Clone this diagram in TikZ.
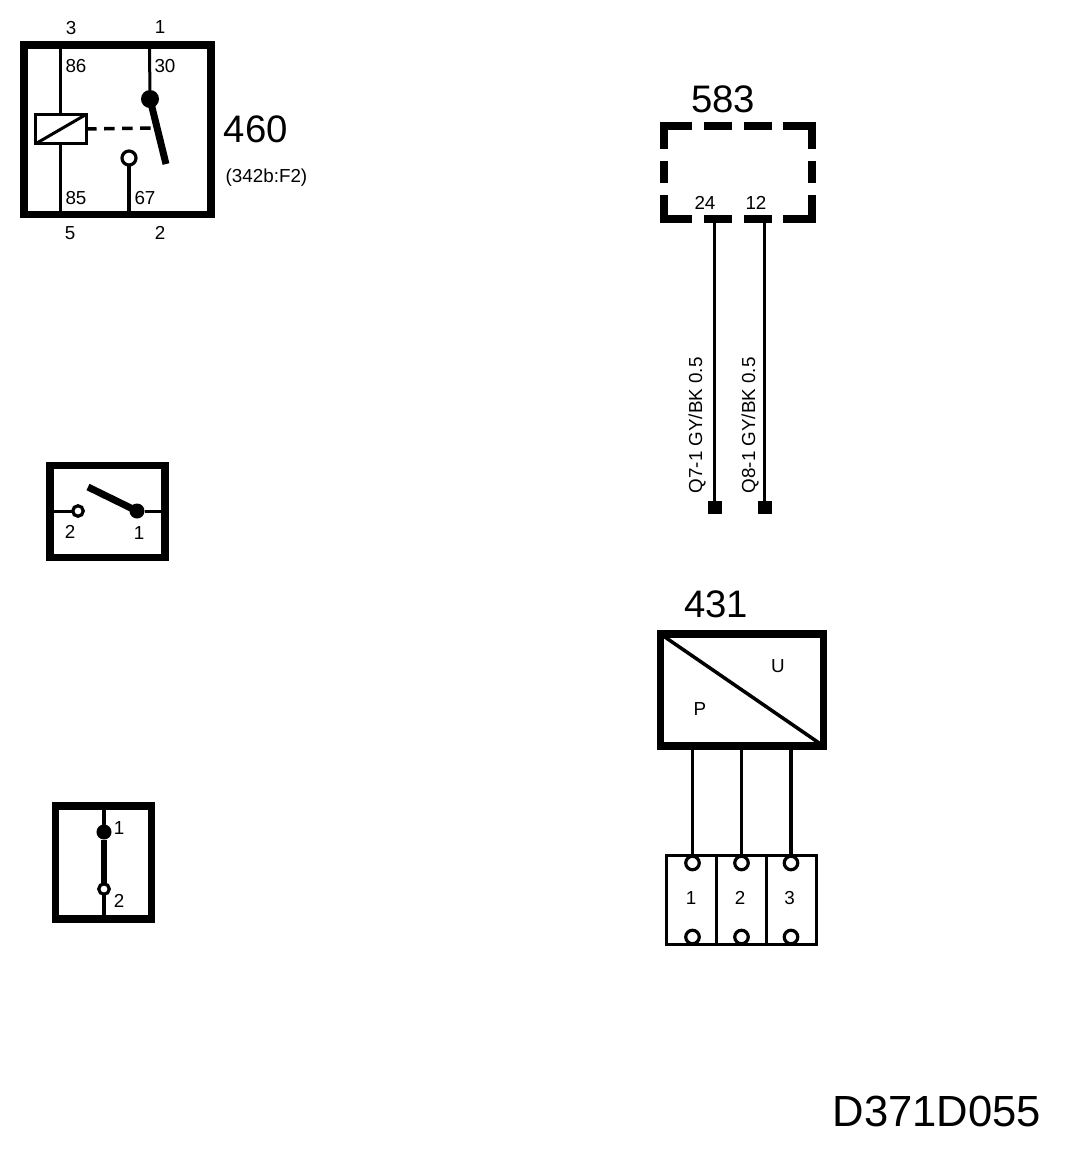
\documentclass[tikz,border=0pt]{standalone}
\usepackage{fontspec}
\setmainfont{Liberation Sans}
\tikzset{
    bigbox/.style={draw, line width=0.075cm, inner sep=0pt, outer sep=0pt},
    thinbox/.style={draw, line width=0.03cm, inner sep=0pt, outer sep=0pt},
    wire/.style={line width=0.03cm},
    blade/.style={line width=0.07cm},
    dashbar/.style={line width=0.075cm},
    opencontact/.style={circle, draw, fill=white, line width=0.032cm, inner sep=0pt, outer sep=0pt},
    blackcontact/.style={circle, fill=black, inner sep=0pt, outer sep=0pt},
    pinlabel/.style={font=\fontsize{5.35}{6}\selectfont, inner sep=0pt},
    partlabel/.style={font=\fontsize{10.9}{12}\selectfont, inner sep=0pt},
    wireend/.style={fill=black, inner sep=0pt, outer sep=0pt, minimum size=0.13cm}
}
\begin{document}
\begin{tikzpicture}[x=0.01cm,y=-0.01cm]
        \useasboundingbox (0,0) rectangle (1088,1156);
        \node[bigbox, minimum width=1.87cm, minimum height=1.695cm] (relay) at (117.5,129.8) {};
        \node[thinbox, minimum width=0.5cm, minimum height=0.29cm] (coil) at (61,129) {};
        \coordinate (pin86) at (60.5,45);
        \coordinate (pin85) at (60.5,214);
        \coordinate (pin30) at (149.5,45);
        \coordinate (pin87) at (129,214);
        \coordinate (bladeend) at (166,164);
        \coordinate (dashend) at (155,128);
        \node[blackcontact, minimum size=0.18cm] (common) at (150,99) {};
        \node[opencontact, minimum size=0.14cm] (contact) at (129,158) {};
        \draw[wire] (pin86) -- (coil.north -| pin86);
        \draw[wire] (coil.south -| pin85) -- (pin85);
        \draw[wire] (pin30) -- (common);
        \draw[wire] (contact) -- (pin87);
        \draw[blade] (common.center) -- (bladeend);
        \draw[wire] (coil.south west) -- (coil.north east);
        \draw[line width=0.035cm, dash pattern=on 0.105cm off 0.075cm] (coil.east) -- (dashend);
        \node[pinlabel] (t3) at (71,28) {3};
        \node[pinlabel] (t1) at (160,27) {1};
        \node[pinlabel] (t86) at (76,66) {86};
        \node[pinlabel] (t30) at (165,66) {30};
        \node[pinlabel] (t85) at (76,198) {85};
        \node[pinlabel] (t87) at (145,198) {67};
        \node[pinlabel] (t5) at (70,233) {5};
        \node[pinlabel] (t2) at (160,233) {2};
        \node[partlabel, anchor=west] (n460) at (223,129) {460};
        \node[pinlabel, anchor=west] (ref460) at (225,178) {(342b:F2)};
        \foreach \a/\b/\c/\d in {660/126/692/126, 704/126/732/126, 744/126/772/126, 783/126/816/126, 704/219/732/219, 744/219/772/219, 660/219/692/219, 783/219/816/219, 664/122/664/149, 664/161/664/183, 664/195/664/223, 812/122/812/149, 812/161/812/183, 812/195/812/223}
            \draw[dashbar] (\a,\b) -- (\c,\d);
        \coordinate (ecu24) at (715,219);
        \coordinate (ecu12) at (765,219);
        \node[wireend] (end24) at (715,507) {};
        \node[wireend] (end12) at (765,507) {};
        \draw[wire] (ecu24) -- (end24);
        \draw[wire] (ecu12) -- (end12);
        \node[partlabel] (n583) at (723,99) {583};
        \node[pinlabel] (t24) at (705,203) {24};
        \node[pinlabel] (t12) at (756,203) {12};
        \node[pinlabel, rotate=90, anchor=west] (q7) at (697,494) {Q7-1 GY/BK 0.5};
        \node[pinlabel, rotate=90, anchor=west] (q8) at (750,494) {Q8-1 GY/BK 0.5};
        \node[bigbox, minimum width=1.145cm, minimum height=0.92cm] (sw1) at (107.5,511.5) {};
        \node[opencontact, minimum size=0.105cm] (sw1b) at (78,511) {};
        \node[blackcontact, minimum size=0.15cm] (sw1a) at (137,511) {};
        \coordinate (sw1left) at (50.5,511);
        \coordinate (sw1right) at (164.5,511);
        \coordinate (sw1blade) at (88,487);
        \draw[wire] (sw1left) -- (sw1b);
        \draw[wire] (sw1a) -- (sw1right);
        \draw[blade] (sw1a.center) -- (sw1blade);
        \node[pinlabel] (t2b) at (70,532) {2};
        \node[pinlabel] (t1b) at (139,533) {1};
        \node[bigbox, minimum width=0.955cm, minimum height=1.13cm] (sw2) at (103.5,862.5) {};
        \node[blackcontact, minimum size=0.15cm] (sw2a) at (104,832) {};
        \node[opencontact, minimum size=0.105cm] (sw2b) at (104,889) {};
        \coordinate (sw2top) at (104,806);
        \coordinate (sw2bot) at (104,919);
        \draw[wire] (sw2top) -- (sw2a);
        \draw[line width=0.06cm] (sw2a) -- (sw2b);
        \draw[wire] (sw2b) -- (sw2bot);
        \node[pinlabel] (t1c) at (119,828) {1};
        \node[pinlabel] (t2c) at (119,901) {2};
        \node[bigbox, minimum width=1.63cm, minimum height=1.12cm] (sensor) at (742,690) {};
        \draw[line width=0.035cm] (sensor.north west) -- (sensor.south east);
        \node[pinlabel] (tu) at (778,666) {U};
        \node[pinlabel] (tp) at (700,709) {P};
        \node[partlabel] (n431) at (716,604) {431};
        \node[thinbox, minimum width=0.49cm, minimum height=0.88cm] (plug1) at (691.5,900) {};
        \node[thinbox, minimum width=0.5cm, minimum height=0.88cm, anchor=west] (plug2) at (plug1.east) {};
        \node[thinbox, minimum width=0.5cm, minimum height=0.88cm, anchor=west] (plug3) at (plug2.east) {};
        \foreach \i/\x in {1/692.5, 2/741.5, 3/791} {
            \node[opencontact, minimum size=0.135cm] (up\i) at (\x,863) {};
            \node[opencontact, minimum size=0.135cm] (low\i) at (\x,937) {};
            \coordinate (tap\i) at (\x,746);
            \draw[line width=0.035cm] (tap\i) -- (up\i);
            \node[pinlabel] (c\i) at (\x-1.5,898) {\i};
        }
        \node[font=\fontsize{12.4}{14}\selectfont, inner sep=0pt, anchor=west] (docid) at (832,1111) {D371D055};
    \end{tikzpicture}
\end{document}
